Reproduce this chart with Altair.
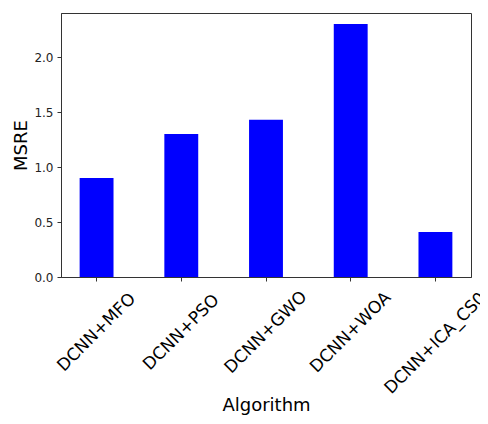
import altair as alt
import pandas as pd

algorithms = ["DCNN+MFO", "DCNN+PSO", "DCNN+GWO", "DCNN+WOA", "DCNN+ICA_CS0"]
msre = [0.90, 1.30, 1.43, 2.30, 0.41]
y_ticks = [0.0, 0.5, 1.0, 1.5, 2.0]

df = pd.DataFrame({"Algorithm": algorithms, "MSRE": msre})

font = "DejaVu Sans"

chart = alt.Chart(df).mark_bar(color="#0000ff").encode(
    x=alt.X(
        "Algorithm:N",
        sort=algorithms,
        scale=alt.Scale(paddingInner=0.6, paddingOuter=0.22),
        axis=alt.Axis(
            title="Algorithm",
            labelAngle=-45,
            labelAlign="center",
            labelBaseline="middle",
            labelPadding={"condition": {"test": "datum.value == 'DCNN+ICA_CS0'", "value": 62}, "value": 51},
            labelFontSize=17,
            labelFont=font,
            labelColor="#000000",
            tickSize=4,
            tickColor="#333333",
            domainColor="#333333",
            titleFont=font,
            titleFontSize=18,
            titleFontWeight="normal",
            titleColor="#000000",
            titleY=133,
            titleBaseline="alphabetic",
        ),
    ),
    y=alt.Y(
        "MSRE:Q",
        scale=alt.Scale(domain=[0, 2.4], nice=False),
        axis=alt.Axis(
            title="MSRE",
            values=y_ticks,
            format=".1f",
            grid=False,
            labelFontSize=12,
            labelFont=font,
            labelColor="#222222",
            labelPadding=4,
            tickSize=4,
            tickColor="#333333",
            domainColor="#333333",
            titleFont=font,
            titleFontSize=18,
            titleFontWeight="normal",
            titleColor="#000000",
            titleX=-40,
            titleBaseline="middle",
        ),
    ),
).properties(
    width=410,
    height=264,
    autosize=alt.AutoSizeParams(type="none"),
    padding={"left": 53, "top": 5, "right": 9, "bottom": 139},
).configure_view(
    stroke="#333333",
    strokeWidth=1,
)

chart.save("out.html", embed_options={"renderer": "svg", "actions": False})
